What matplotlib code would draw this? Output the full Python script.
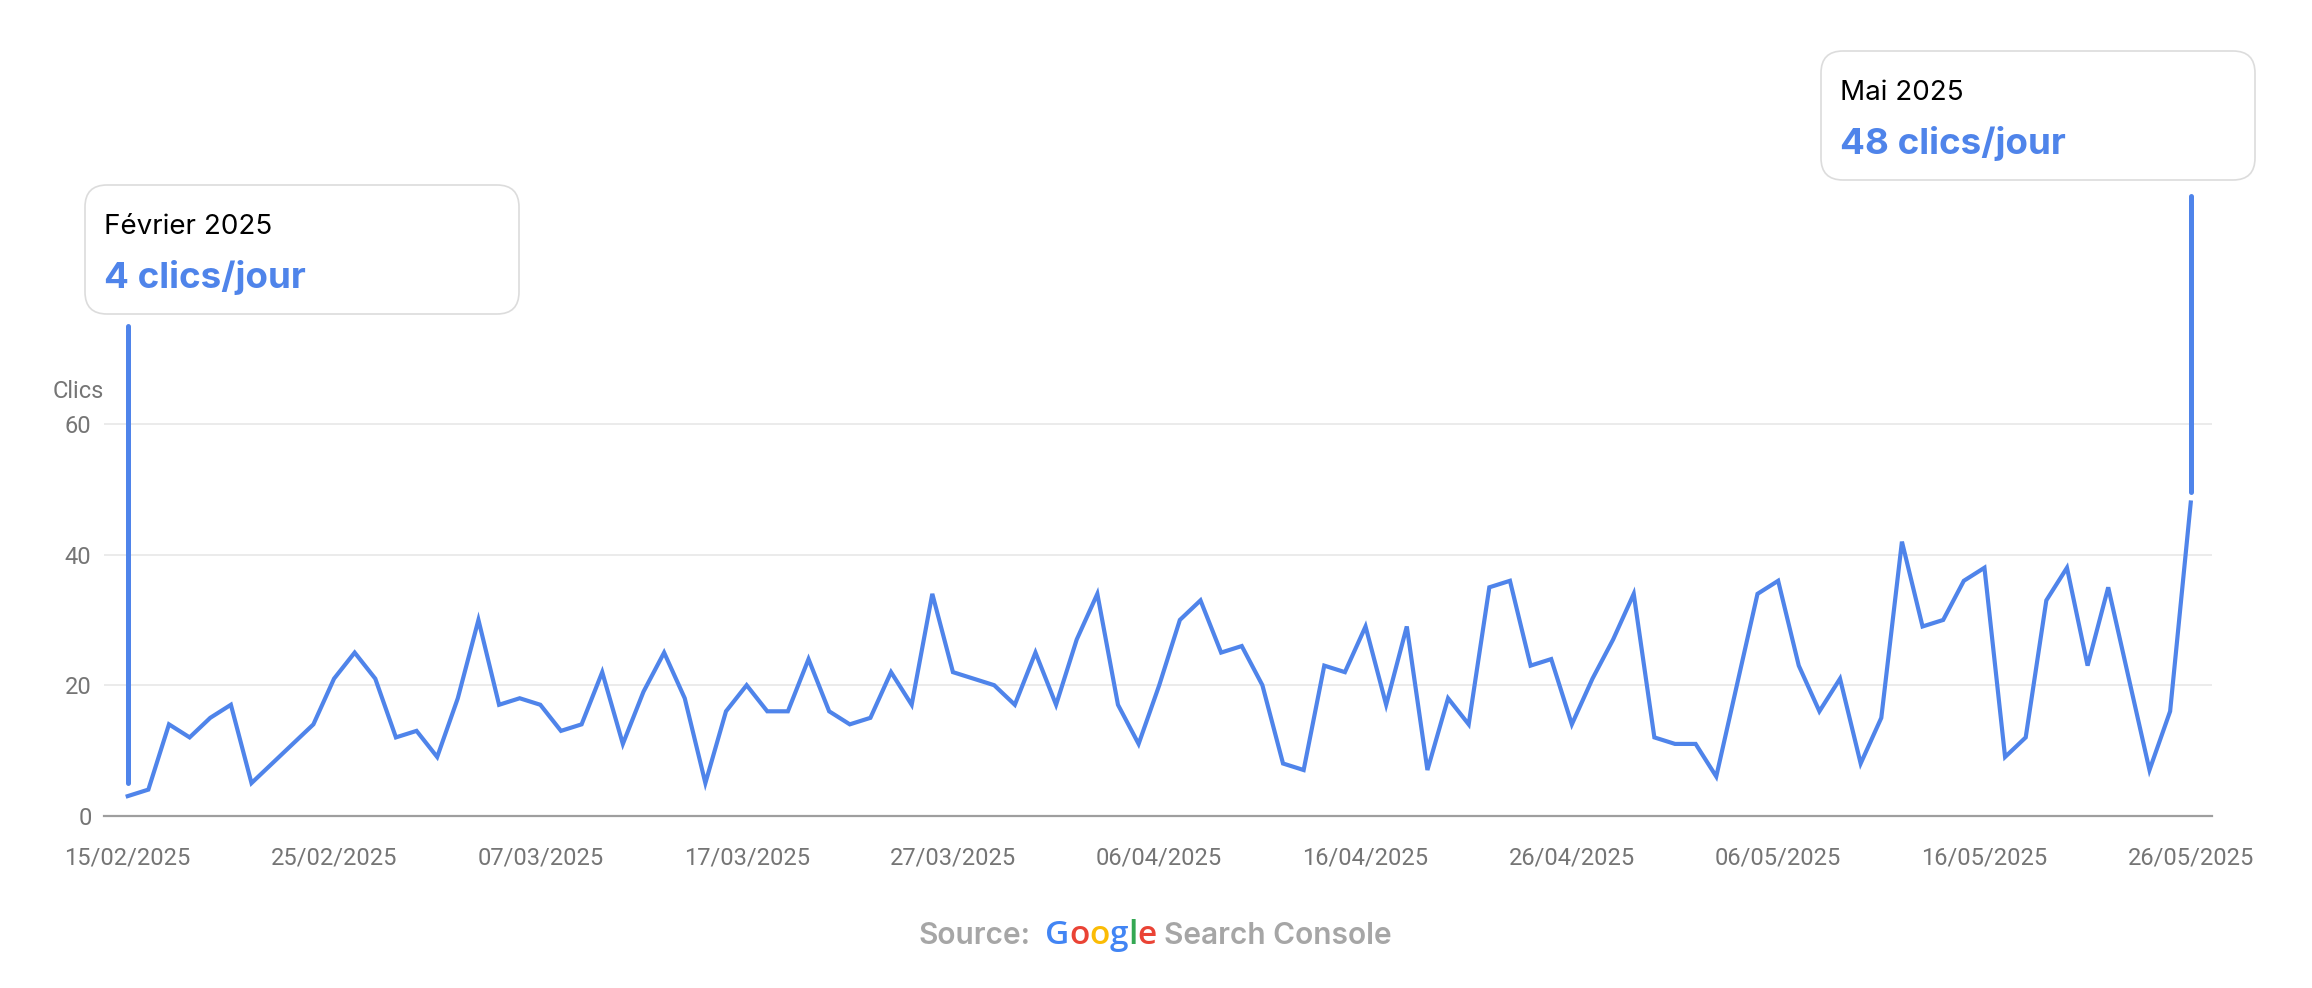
import matplotlib
matplotlib.use("Agg")
import matplotlib.pyplot as plt
import matplotlib.dates as mdates
from matplotlib.patches import FancyBboxPatch
from matplotlib.transforms import IdentityTransform
import pandas as pd

# ---------------- data ----------------
start_date = "2025-02-15"
clicks = [3, 4, 14, 12, 15, 17, 5, 8, 11, 14, 21, 25, 21, 12, 13, 9, 18, 30, 17, 18,
          17, 13, 14, 22, 11, 19, 25, 18, 5, 16, 20, 16, 16, 24, 16, 14, 15, 22, 17,
          34, 22, 21, 20, 17, 25, 17, 27, 34, 17, 11, 20, 30, 33, 25, 26, 20, 8, 7,
          23, 22, 29, 17, 29, 7, 18, 14, 35, 36, 23, 24, 14, 21, 27, 34, 12, 11, 11, 6,
          20, 34, 36, 23, 16, 21, 8, 15, 42, 29, 30, 36, 38, 9, 12, 33, 38, 23, 35, 21, 7, 16, 48]
dates = pd.date_range(start_date, periods=len(clicks), freq="D")

y_ticks = [0, 20, 40, 60]
y_label = "Clics"
tick_step_days = 10

ann_titles = ["Février 2025", "Mai 2025"]
ann_values = ["4 clics/jour", "48 clics/jour"]
ann_dates = [dates[0], dates[-1]]
ann_line_lo = [5, 49.6]
ann_line_hi = [75, 95]

source_prefix = "Source:"
google_letters = ["G", "o", "o", "g", "l", "e"]
google_colors = ["#4285F4", "#EA4335", "#FBBC05", "#4285F4", "#34A853", "#EA4335"]
source_suffix = "Search Console"

# ---------------- style ----------------
W, H = 2312, 988
BLUE = "#4F84EA"
GRAY_TXT = "#757575"

fig = plt.figure(figsize=(W / 100, H / 100), dpi=100)
fig.patch.set_facecolor("white")

y0_px = 815.7
px_per_unit = 6.525
ytop = 66
ax = fig.add_axes([104 / W, (H - y0_px) / H, (2212 - 104) / W, ytop * px_per_unit / H])

xnum = mdates.date2num(dates)
ax.plot(xnum, clicks, color=BLUE, lw=3.0, solid_joinstyle="miter", zorder=3)
ax.set_xlim(xnum[0] - 1.15, xnum[0] + 101.03)
ax.set_ylim(0, ytop)

ax.set_yticks(y_ticks)
tick_pos = xnum[::tick_step_days]
ax.set_xticks(tick_pos)
ax.set_xticklabels([d.strftime("%d/%m/%Y") for d in dates[::tick_step_days]])

for s in ["top", "right", "left"]:
    ax.spines[s].set_visible(False)
ax.spines["bottom"].set_color("#9E9E9E")
ax.spines["bottom"].set_linewidth(1.6)
ax.yaxis.grid(True, color="#EBEBEB", lw=1.4)
ax.set_axisbelow(True)
ax.tick_params(axis="both", length=0, labelsize=17, labelcolor=GRAY_TXT)
ax.tick_params(axis="x", pad=22)
ax.tick_params(axis="y", pad=9)
for lab in ax.get_xticklabels() + ax.get_yticklabels():
    lab.set_fontfamily("Roboto")

fig.text(53 / W, 1 - 398 / H, y_label, fontsize=17, color=GRAY_TXT,
         family="Roboto", va="baseline", ha="left")

# annotation leader lines
for d, lo, hi in zip(ann_dates, ann_line_lo, ann_line_hi):
    xd = mdates.date2num(d)
    ax.plot([xd, xd], [lo, hi], color=BLUE, lw=3.6, solid_capstyle="round",
            clip_on=False, zorder=4)

# annotation boxes (pixel layout, top-left origin converted to display coords)
boxes = [(85, 185, 519, 314), (1821, 51, 2255, 180)]
r = 22
for (x1, y1, x2, y2) in boxes:
    patch = FancyBboxPatch((x1 + r, H - y2 + r), (x2 - x1 - 2 * r), (y2 - y1 - 2 * r),
                           boxstyle=f"round,pad={r},rounding_size={r}",
                           transform=IdentityTransform(), facecolor="white",
                           edgecolor="#DCDCDC", lw=1.2, zorder=5)
    fig.patches.append(patch)
for (x1, y1, x2, y2), title, val in zip(boxes, ann_titles, ann_values):
    fig.text((x1 + 19) / W, 1 - (y1 + 49) / H, title, fontsize=20, color="black",
             family="Inter", va="baseline", ha="left", zorder=6)
    fig.text((x1 + 19) / W, 1 - (y1 + 103) / H, val, fontsize=26.5, color=BLUE,
             family="Inter", weight="bold", va="baseline", ha="left", zorder=6)

# source line
renderer = fig.canvas.get_renderer()
src_y = 1 - 944 / H
pieces = [(source_prefix, "#A6A6A6", "Inter", "semibold", 21.5)]
pieces += [(c, col, "Open Sans", "semibold", 24) for c, col in zip(google_letters, google_colors)]
pieces += [(source_suffix, "#A6A6A6", "Inter", "semibold", 21.5)]
gaps = [14] + [0] * 5 + [7] + [0]
texts = []
widths = []
for txt, col, fam, wt, fs in pieces:
    t = fig.text(0, src_y, txt, fontsize=fs, color=col, family=fam, weight=wt,
                 va="baseline", ha="left")
    bb = t.get_window_extent(renderer)
    texts.append(t)
    widths.append(bb.width)
total = sum(widths) + sum(gaps[:len(pieces) - 1])
x = 1155 - total / 2
for t, w, g in zip(texts, widths, gaps):
    t.set_x(x / W)
    x += w + g

fig.savefig("out.png", dpi=100, facecolor="white")
